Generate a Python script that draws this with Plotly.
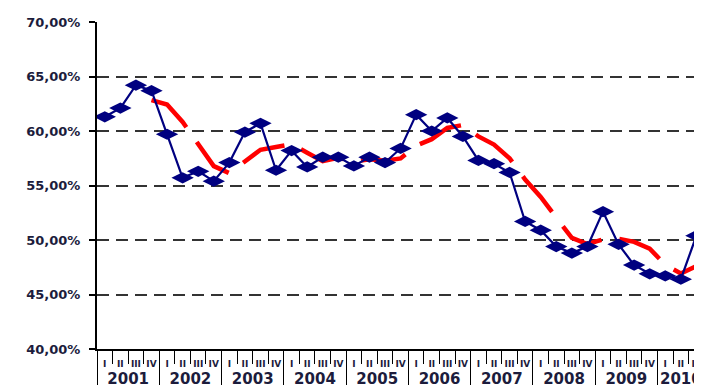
import plotly.graph_objects as go

# ---- data ----
years = ["2001", "2002", "2003", "2004", "2005", "2006", "2007", "2008", "2009", "2010"]
quarters = ["I", "II", "III", "IV"]

rate = [61.3, 62.1, 64.2, 63.7,
        59.7, 55.7, 56.3, 55.4,
        57.1, 59.9, 60.7, 56.4,
        58.2, 56.7, 57.6, 57.6,
        56.8, 57.6, 57.1, 58.4,
        61.5, 60.0, 61.2, 59.5,
        57.3, 57.0, 56.2, 51.7,
        50.9, 49.4, 48.8, 49.4,
        52.6, 49.6, 47.7, 46.9,
        46.7, 46.4, 50.4, None]

moving_avg = [None, None, None, 62.83,
              62.43, 60.83, 58.85, 56.78,
              56.13, 57.18, 58.28, 58.53,
              58.80, 58.00, 57.23, 57.53,
              57.18, 57.40, 57.28, 57.48,
              58.65, 59.25, 60.28, 60.55,
              59.50, 58.75, 57.50, 55.55,
              53.95, 52.05, 50.20, 49.63,
              50.05, 50.10, 49.83, 49.20,
              47.73, 46.93, 47.60, None]

y_ticks = [40, 45, 50, 55, 60, 65, 70]
y_ticktext = ["40,00%", "45,00%", "50,00%", "55,00%", "60,00%", "65,00%", "70,00%"]

# multicategory x built from the year / quarter lists
# (hair spaces set the height of the quarter row)
pad_sp = '<span style="font-size:11px">\u200a</span>'
q_lab = [pad_sp + '<span style="font-size:9px">%s</span>' % q + pad_sp for q in quarters]
x_year = [years[i // 4] for i in range(len(rate))]
x_q = [q_lab[i % 4] for i in range(len(rate))]

fig = go.Figure()
fig.add_trace(go.Scatter(
    x=[x_year, x_q], y=moving_avg, mode="lines",
    line=dict(color="#FF0000", width=4.5, dash="46px,18px"),
    showlegend=False))
fig.add_trace(go.Scatter(
    x=[x_year, x_q], y=rate, mode="lines+markers",
    line=dict(color="#000080", width=2.2),
    marker=dict(symbol="diamond-wide", size=16, color="#000080"),
    showlegend=False, connectgaps=False))

# the page body has an 8px margin, so the figure is shifted by 8px
fig.update_layout(
    width=694, height=377,
    margin=dict(l=89, r=0, t=14, b=36, pad=0),
    paper_bgcolor="white", plot_bgcolor="white",
    font=dict(family="DejaVu Sans", color="#1c1c3c"),
    xaxis=dict(
        type="multicategory", range=[-0.5, 38.36], automargin=False,
        tickmode="linear", tick0=0, dtick=1, tickangle=0,
        showline=True, linecolor="black", linewidth=2,
        ticks="outside", tickson="boundaries", ticklen=13,
        tickcolor="black", tickwidth=1,
        ticklabelstandoff=-2,
        tickfont=dict(family="DejaVu Sans", size=15, color="#1c1c3c", weight="bold"),
        showgrid=False, zeroline=False,
        showdividers=True, dividercolor="black", dividerwidth=1),
    yaxis=dict(
        range=[40, 70], tickvals=y_ticks, ticktext=y_ticktext, automargin=False,
        showline=True, linecolor="black", linewidth=2,
        ticks="outside", ticklen=6, tickcolor="black", tickwidth=1.5,
        ticklabelstandoff=6,
        tickfont=dict(family="DejaVu Sans", size=13, color="#1c1c3c", weight="bold"),
        showgrid=True, gridcolor="#333333", gridwidth=1.5, griddash="12px,7px",
        zeroline=False),
)

fig.write_html("out.html")
